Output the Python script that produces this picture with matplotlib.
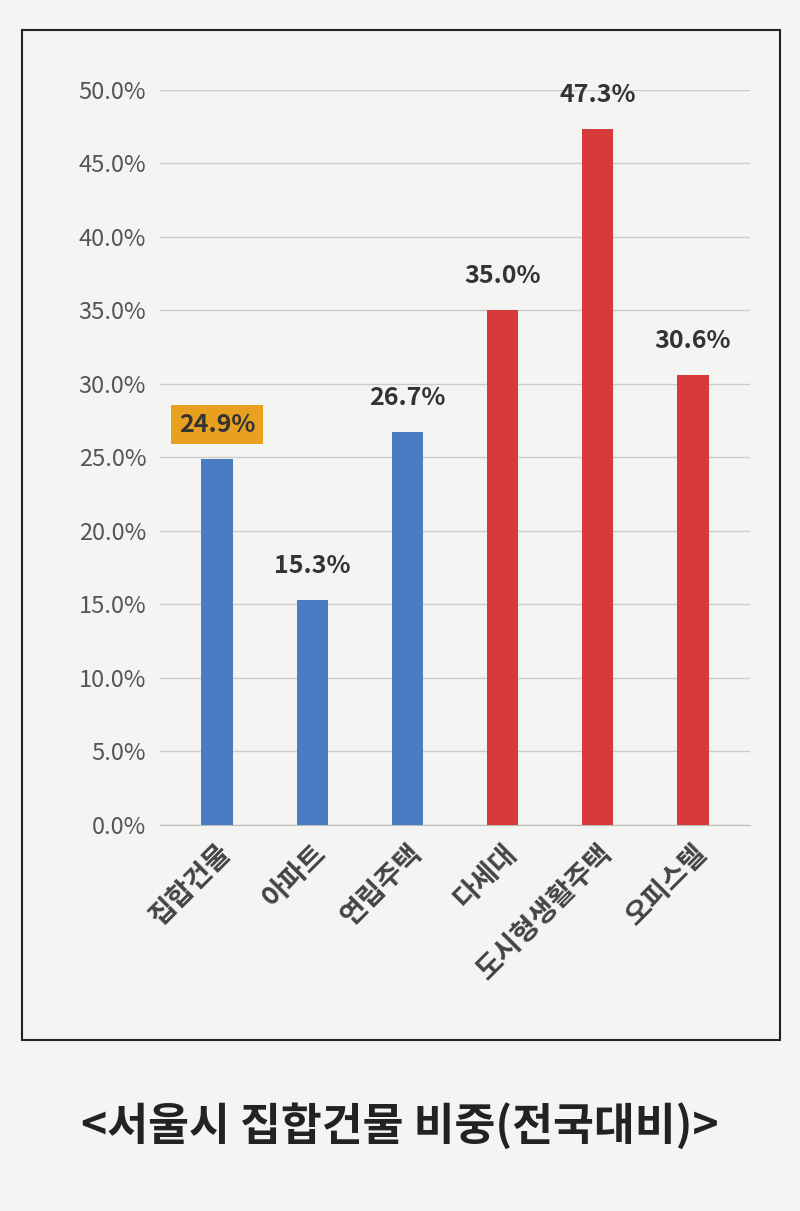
import matplotlib
matplotlib.use("Agg")
import matplotlib.pyplot as plt
from matplotlib.patches import Rectangle

categories = ["집합건물", "아파트", "연립주택", "다세대", "도시형생활주택", "오피스텔"]
values = [24.9, 15.3, 26.7, 35.0, 47.3, 30.6]
colors = ["#4a7cc4", "#4a7cc4", "#4a7cc4", "#d63a3a", "#d63a3a", "#d63a3a"]
yticks = [0, 5, 10, 15, 20, 25, 30, 35, 40, 45, 50]
title = "<서울시 집합건물 비중(전국대비)>"

plt.rcParams["font.family"] = ["Noto Sans CJK KR", "Noto Sans CJK JP", "Noto Sans CJK SC", "DejaVu Sans"]
fig = plt.figure(figsize=(8, 12.11), dpi=100)
fig.patch.set_facecolor("#f4f4f2")
fig.patches.append(Rectangle((0.0275, 0.141), 0.9475, 0.834, transform=fig.transFigure,
                             fill=False, edgecolor="#222222", linewidth=1.5))
ax = fig.add_axes([0.2, 0.319, 0.7375, 0.607])
ax.set_facecolor("#f4f4f2")
x = range(len(categories))
ax.bar(x, values, width=0.33, color=colors, zorder=3)
ax.set_ylim(0, 50)
ax.set_xlim(-0.6, len(categories) - 0.4)
ax.set_yticks(yticks)
ax.set_yticklabels([f"{v:.1f}%" for v in yticks], fontsize=17, color="#555555")
ax.grid(axis="y", color="#cccccc", linewidth=1, zorder=0)
for s in ["top", "right", "left"]:
    ax.spines[s].set_visible(False)
ax.spines["bottom"].set_color("#bbbbbb")
ax.tick_params(axis="both", length=0, pad=10)
ax.set_xticks(list(x))
ax.set_xticklabels(categories, rotation=45, ha="right", rotation_mode="anchor",
                   fontsize=20, fontweight="bold", color="#444444")
for i, v in enumerate(values):
    kw = {}
    if i == 0:
        kw["bbox"] = dict(boxstyle="square,pad=0.3", facecolor="#e8a020", edgecolor="none")
    ax.text(i, v + 1.5, f"{v:.1f}%", ha="center", va="bottom", fontsize=18,
            fontweight="bold", color="#333333", clip_on=False, **kw)
fig.text(0.5, 0.07, title, ha="center", va="center", fontsize=32,
         fontweight="bold", color="#222222")
fig.savefig("out.png", dpi=100, facecolor=fig.get_facecolor())
